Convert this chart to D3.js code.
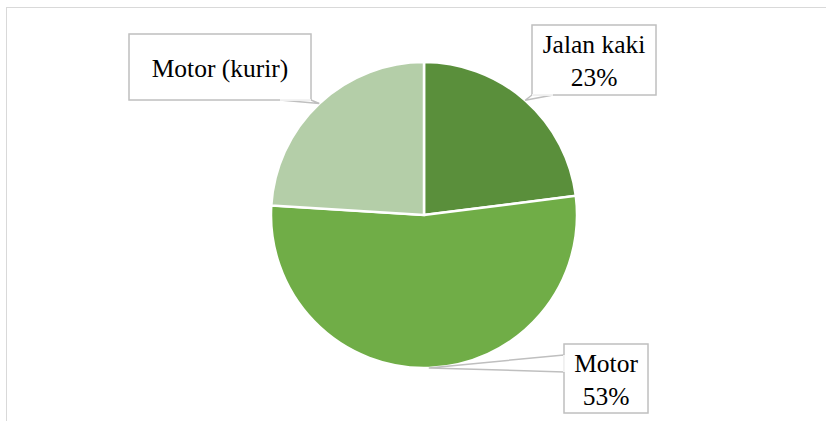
<!DOCTYPE html>
<html>
<head>
<meta charset="utf-8">
<script src="https://cdn.jsdelivr.net/npm/d3@7"></script>
<style>
    body { margin: 0; background: #fff; }
</style>
</head>
<body>
<script>
// chart data
var categories = ["Jalan kaki", "Motor", "Motor (kurir)"];
var shares = [23, 53, 24];
var labelLines = [["Jalan kaki", "23%"], ["Motor", "53%"], ["Motor (kurir)"]];
var colors = ["#5a8f3b", "#70ad47", "#b4cea8"];

var width = 826, height = 421;
var cx = 424, cy = 215, radius = 153;

// pick the first serif face that really exists (compare with a sans fallback)
function pickFont(list){
    var ctx = document.createElement("canvas").getContext("2d");
    var sample = "Motor (kurir) Jalan kaki 23%";
    ctx.font = "40px monospace";
    var mono = ctx.measureText(sample).width;
    for (var i = 0; i < list.length; i++){
        ctx.font = "40px '" + list[i] + "', monospace";
        if (Math.abs(ctx.measureText(sample).width - mono) > 1) return "'" + list[i] + "'";
    }
    return "serif";
}
var fontStack = pickFont(["Liberation Serif", "Times New Roman", "Tinos",
    "DejaVu Serif", "Noto Serif"]) + ", serif";

// label boxes: [x, y, w, h] and the two points where the pointer leaves the box
var boxes = [
    {x: 532, y: 25, w: 124, h: 70, p1: [532, 95], p2: [553, 95]},
    {x: 564, y: 344, w: 84, h: 69, p1: [564, 355], p2: [564, 372]},
    {x: 129, y: 34, w: 182, h: 66, p1: [280, 100], p2: [311, 100]}
];

var svg = d3.select("body").append("svg")
    .attr("width", width)
    .attr("height", height);

// outer chart frame (right and bottom are outside the picture)
svg.append("rect")
    .attr("x", 6.5)
    .attr("y", 7.5)
    .attr("width", 840)
    .attr("height", 440)
    .style("fill", "none")
    .style("stroke", "#d9d9d9")
    .style("stroke-width", 1);

var pie = d3.pie().sort(null).value(function(d){ return d; });
var arcs = pie(shares);

var arc = d3.arc().innerRadius(0).outerRadius(radius);
var edgeArc = d3.arc().innerRadius(radius).outerRadius(radius);

var g = svg.append("g")
    .attr("transform", "translate(" + cx + "," + cy + ")");

g.selectAll("path.slice")
    .data(arcs)
    .enter().append("path")
    .attr("class", "slice")
    .attr("d", arc)
    .style("fill", function(d, i){ return colors[i]; })
    .style("stroke", "#fff")
    .style("stroke-width", 2.5);

// callout labels
arcs.forEach(function(a, i){
    var b = boxes[i];
    var tip = edgeArc.centroid(a);
    var tx = tip[0] + cx, ty = tip[1] + cy;

    svg.append("path")
        .attr("d", "M" + b.p1[0] + "," + b.p1[1] + "L" + tx + "," + ty +
            "L" + b.p2[0] + "," + b.p2[1] + "Z")
        .style("fill", "#fff")
        .style("stroke", "#bfbfbf")
        .style("stroke-width", 1.5);

    svg.append("rect")
        .attr("x", b.x)
        .attr("y", b.y)
        .attr("width", b.w)
        .attr("height", b.h)
        .style("fill", "#fff")
        .style("stroke", "#bfbfbf")
        .style("stroke-width", 1.5);

    // cover the pointer seam on the box edge
    svg.append("line")
        .attr("x1", b.p1[0]).attr("y1", b.p1[1])
        .attr("x2", b.p2[0]).attr("y2", b.p2[1])
        .style("stroke", "#fff")
        .style("stroke-width", 1.5);

    var lines = labelLines[i];
    var lh = 33;
    var top = b.y + b.h / 2 + 1 - (lines.length - 1) * lh / 2;
    lines.forEach(function(t, j){
        svg.append("text")
            .attr("x", b.x + b.w / 2)
            .attr("y", top + j * lh)
            .attr("dy", "0.35em")
            .attr("text-anchor", "middle")
            .style("font-family", fontStack)
            .style("font-size", "25.5px")
            .style("fill", "#000")
            .text(t);
    });
});
</script>
</body>
</html>
